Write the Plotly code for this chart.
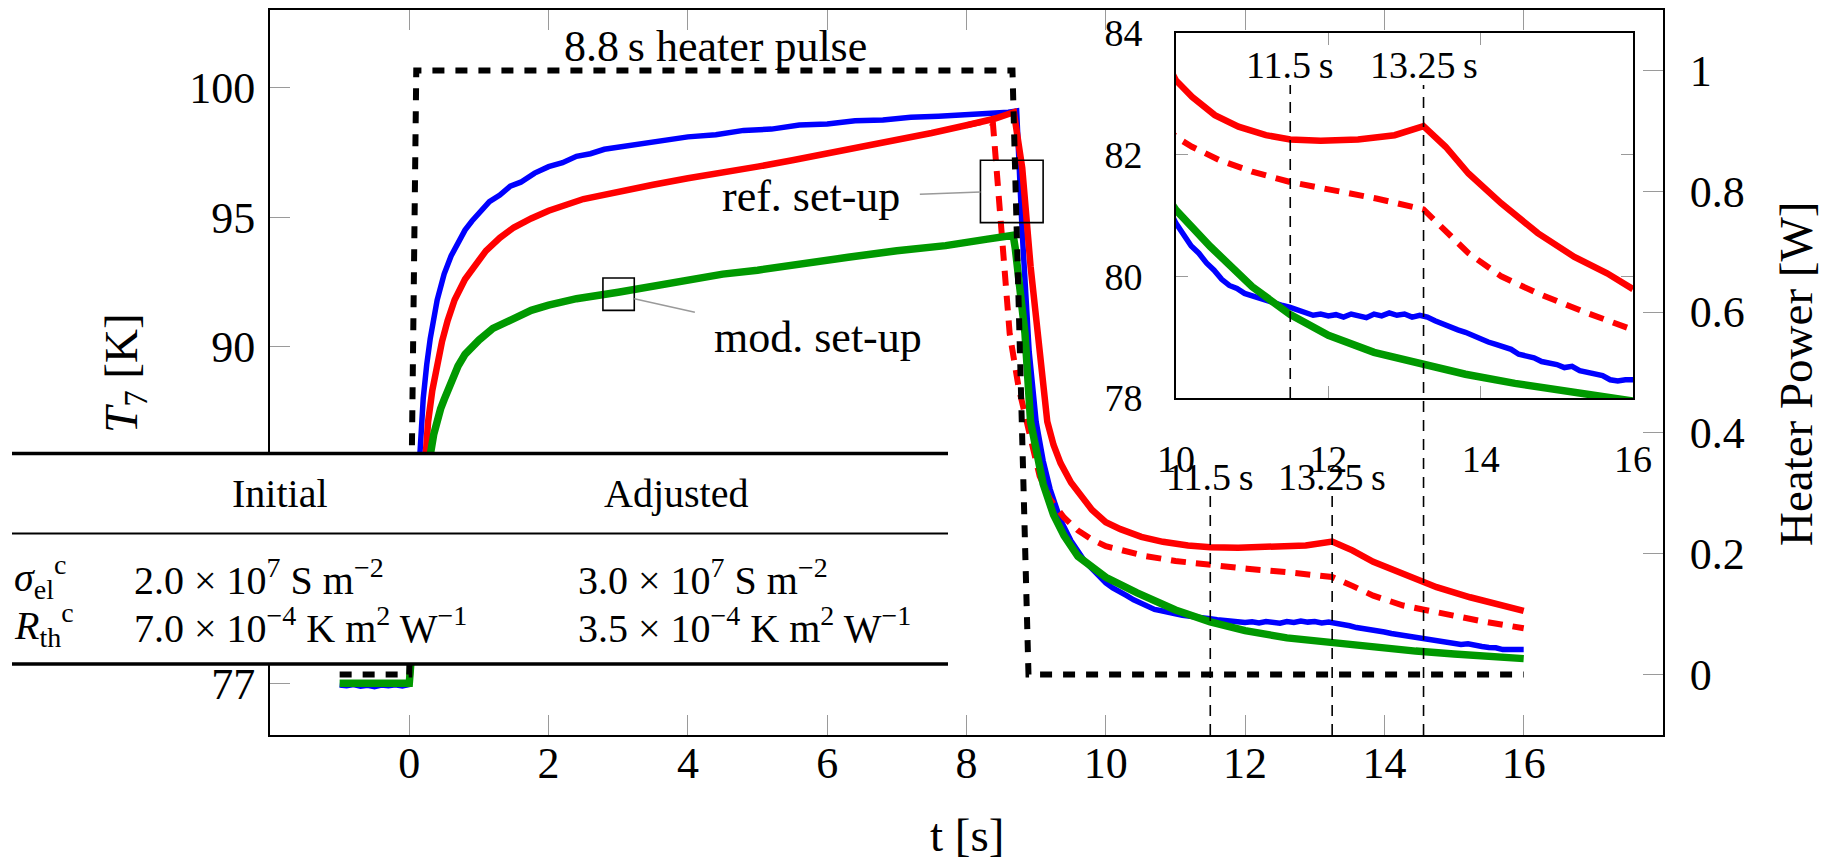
import plotly.graph_objects as go

FONT = "Liberation Serif, Times New Roman, serif"

# ---------------- data ----------------
# measured temperature (blue)
blue_t = [-1.0, -0.9, -0.8, -0.7, -0.6, -0.5, -0.4, -0.3, -0.2, -0.1, 0.0,
          0.05, 0.1, 0.15, 0.2, 0.25, 0.3, 0.4, 0.5, 0.6, 0.7, 0.8, 0.9, 1.0,
          1.15, 1.3, 1.45, 1.6, 1.8, 2.0, 2.2, 2.4, 2.6, 2.8, 3.0, 3.3, 3.6,
          4.0, 4.4, 4.8, 5.2, 5.6, 6.0, 6.4, 6.8, 7.2, 7.6, 8.0, 8.3, 8.6, 8.72,
          8.8, 8.9, 9.0, 9.1, 9.2, 9.35, 9.5, 9.7, 9.85, 10.0,
          10.1, 10.2, 10.3, 10.4, 10.5, 10.6, 10.7, 10.8, 10.9, 11.0,
          11.1, 11.2, 11.3, 11.4, 11.5, 11.6, 11.7, 11.8, 11.9, 12.0,
          12.1, 12.2, 12.3, 12.4, 12.5, 12.6, 12.7, 12.8, 12.9, 13.0,
          13.1, 13.2, 13.3, 13.4, 13.5, 13.6, 13.7, 13.8, 13.9, 14.0,
          14.1, 14.2, 14.3, 14.4, 14.5, 14.6, 14.7, 14.8, 14.9, 15.0,
          15.1, 15.2, 15.3, 15.4, 15.5, 15.6, 15.7, 15.8, 15.9, 16.0]
blue_T = [76.93, 76.90, 76.95, 76.88, 76.92, 76.87, 76.93, 76.90, 76.94, 76.89, 76.95,
          79.5, 83.5, 86.3, 88.0, 89.3, 90.3, 91.8, 92.8, 93.5, 94.05, 94.5, 94.85, 95.15,
          95.6, 95.85, 96.2, 96.35, 96.7, 96.95, 97.1, 97.35, 97.45, 97.62, 97.7, 97.8, 97.97,
          98.1, 98.18, 98.35, 98.4, 98.56, 98.6, 98.72, 98.75, 98.86, 98.9, 98.95, 99.02, 99.05, 99.1,
          94.4, 89.8, 87.1, 85.6, 84.5, 83.3, 82.5, 81.7, 81.25, 80.87,
          80.68, 80.5, 80.38, 80.22, 80.1, 79.95, 79.85, 79.8, 79.72, 79.68,
          79.62, 79.6, 79.56, 79.52, 79.49, 79.45, 79.42, 79.36, 79.38, 79.35,
          79.37, 79.33, 79.38, 79.36, 79.32, 79.38, 79.35, 79.4, 79.36, 79.38,
          79.33, 79.36, 79.33, 79.27, 79.22, 79.15, 79.12, 79.08, 79.02, 78.98,
          78.92, 78.88, 78.83, 78.8, 78.72, 78.7, 78.66, 78.6, 78.58, 78.55,
          78.5, 78.52, 78.45, 78.42, 78.38, 78.37, 78.3, 78.28, 78.3, 78.3]

# model, reference set-up (red solid)
red_t = [0.0, 0.1, 0.2, 0.27, 0.33, 0.4, 0.47, 0.55, 0.65, 0.8, 0.95, 1.1, 1.3, 1.5,
         1.75, 2.0, 2.5, 3.0, 3.5, 4.0, 4.5, 5.0, 5.5, 6.0, 6.5, 7.0, 7.5, 8.0, 8.4, 8.68,
         8.8, 8.92, 9.04, 9.16, 9.25, 9.35, 9.5, 9.65, 9.8, 10.0,
         10.21, 10.51, 10.82, 11.18, 11.5, 11.9, 12.39, 12.87, 13.25,
         13.54, 13.84, 14.27, 14.75, 15.23, 15.66, 16.0]
red_T = [77.0, 80.5, 84.5, 87.1, 88.3, 89.3, 90.2, 91.0, 91.8, 92.6, 93.2, 93.7, 94.2, 94.6,
         94.95, 95.25, 95.7, 96.0, 96.25, 96.5, 96.7, 96.95, 97.2, 97.45, 97.7, 97.95, 98.25,
         98.55, 98.8, 99.05,
         96.9, 93.1, 89.85, 87.1, 86.2, 85.5, 84.75, 84.2, 83.7, 83.22,
         82.95, 82.65, 82.46, 82.32, 82.25, 82.23, 82.25, 82.32, 82.47,
         82.13, 81.69, 81.2, 80.71, 80.32, 80.05, 79.79]

# model variant (red dashed)
redd_t = [8.0, 8.3, 8.38, 8.5, 8.62, 8.75, 8.87, 8.95, 9.05, 9.2, 9.4, 9.6, 9.8, 10.0,
          10.21, 10.57, 11.0, 11.5, 12.03, 12.63, 13.25, 13.54, 13.84, 14.27,
          14.75, 15.35, 16.0]
redd_T = [98.55, 98.72, 98.6, 94.4, 90.5, 88.4, 87.1, 86.0, 85.0, 84.1, 83.4, 82.9, 82.55, 82.29,
          82.13, 81.91, 81.72, 81.55, 81.42, 81.28, 81.1, 80.76, 80.38, 80.0,
          79.72, 79.42, 79.12]

# model, modified set-up (green)
green_t = [-1.0, 0.0, 0.1, 0.2, 0.3, 0.35, 0.4, 0.45, 0.5, 0.6, 0.7, 0.8, 0.9, 1.0, 1.2,
           1.35, 1.5, 1.75, 2.0, 2.4, 3.0, 3.5, 4.0, 4.5, 5.0, 5.7, 6.3, 7.0, 7.7, 8.3, 8.67,
           8.7, 8.75, 8.84, 8.92, 9.0, 9.1, 9.25, 9.4, 9.6, 9.8, 10.0,
           10.45, 11.0, 11.5, 12.0, 12.6, 13.25, 13.8, 14.45, 15.0, 15.5, 16.0]
green_T = [77.0, 77.0, 80.5, 83.5, 85.8, 86.6, 87.2, 87.6, 87.95, 88.7, 89.25, 89.7, 90.0,
           90.25, 90.7, 90.9, 91.1, 91.4, 91.6, 91.85, 92.1, 92.35, 92.55, 92.8, 92.95, 93.25,
           93.45, 93.7, 93.9, 94.15, 94.3,
           93.8, 92.7, 90.5, 87.1, 85.9, 84.7, 83.5, 82.7, 81.9, 81.45, 81.09,
           80.49, 79.83, 79.37, 79.03, 78.75, 78.55, 78.39, 78.24, 78.13, 78.04, 77.95]

# heater pulse (right axis)
heater_t = [-1.0, 0.0, 0.1, 8.66, 8.89, 16.0]
heater_P = [0.0, 0.0, 1.0, 1.0, 0.0, 0.0]

main_xticks = [0, 2, 4, 6, 8, 10, 12, 14, 16]
main_yticks = [77, 90, 95, 100]
power_ticks = [0, 0.2, 0.4, 0.6, 0.8, 1.0]
power_labels = ["0", "0.2", "0.4", "0.6", "0.8", "1"]
inset_xticks = [10, 12, 14, 16]
inset_yticks = [78, 80, 82, 84]
marks_t = [11.5, 13.25]

table_header = ["Initial", "Adjusted"]
table_symbols = ["<i>σ</i><sub>el</sub><sup>c</sup>", "<i>R</i><sub>th</sub><sup>c</sup>"]
table_initial = ["2.0 × 10<sup>7</sup> S m<sup>−2</sup>",
                 "7.0 × 10<sup>−4</sup> K m<sup>2</sup> W<sup>−1</sup>"]
table_adjusted = ["3.0 × 10<sup>7</sup> S m<sup>−2</sup>",
                  "3.5 × 10<sup>−4</sup> K m<sup>2</sup> W<sup>−1</sup>"]

BLUE, RED, GREEN = "#0000ff", "#ff0000", "#009900"
TICKC = "#9a9a9a"

fig = go.Figure()

def add_series(xa, ya):
    fig.add_trace(go.Scatter(x=blue_t, y=blue_T, mode="lines", xaxis=xa, yaxis=ya,
                             line=dict(color=BLUE, width=5.5), hoverinfo="skip"))
    fig.add_trace(go.Scatter(x=red_t, y=red_T, mode="lines", xaxis=xa, yaxis=ya,
                             line=dict(color=RED, width=6.5), hoverinfo="skip"))
    fig.add_trace(go.Scatter(x=redd_t, y=redd_T, mode="lines", xaxis=xa, yaxis=ya,
                             line=dict(color=RED, width=6, dash="15px,10px"), hoverinfo="skip"))
    fig.add_trace(go.Scatter(x=green_t, y=green_T, mode="lines", xaxis=xa, yaxis=ya,
                             line=dict(color=GREEN, width=7.5), hoverinfo="skip"))

add_series("x", "y")
fig.add_trace(go.Scatter(x=heater_t, y=heater_P, mode="lines", xaxis="x", yaxis="y2",
                         line=dict(color="black", width=6, dash="12px,11px"), hoverinfo="skip"))
add_series("x2", "y3")

# plot area in pixels: x 270..1663, y 10..735
L, R, T, B = 270, 160, 10, 126
W, H = 1823, 861
PW, PH = W - L - R, H - T - B

def px(x):
    return (x - L) / PW

def py(y):
    return (H - B - y) / PH

axis_common = dict(ticks="inside", ticklen=20, tickwidth=1.3, tickcolor=TICKC,
                   showline=True, linecolor="black", linewidth=2, automargin=False,
                   showgrid=False, zeroline=False,
                   tickfont=dict(family=FONT, size=44, color="black"))

inset_common = dict(ticks="inside", ticklen=12, tickwidth=1.3, tickcolor=TICKC,
                    showline=True, linecolor="black", linewidth=2, mirror="ticks",
                    showgrid=False, zeroline=False, automargin=False,
                    tickfont=dict(family=FONT, size=38, color="black"))

fig.update_layout(
    width=W, height=H, margin=dict(l=L, r=R, t=T, b=B, autoexpand=False),
    paper_bgcolor="white", plot_bgcolor="white", showlegend=False,
    font=dict(family=FONT, size=44, color="black"),
    xaxis=dict(domain=[0, 1], range=[-2, 18], tickvals=main_xticks, mirror="ticks",
               ticklabelstandoff=-12, anchor="y", **axis_common),
    yaxis=dict(domain=[0, 1], range=[75, 103], tickvals=main_yticks,
               ticklabelstandoff=4, anchor="x", **axis_common),
    yaxis2=dict(range=[-0.1, 1.1], tickvals=power_ticks, ticktext=power_labels,
                overlaying="y", side="right", anchor="x", ticklabelstandoff=16, **axis_common),
    xaxis2=dict(domain=[px(1176), px(1633)], range=[10, 16], tickvals=inset_xticks,
                anchor="y3", ticklabelstandoff=26, **inset_common),
    yaxis3=dict(domain=[py(398), py(33)], range=[78, 84], tickvals=inset_yticks,
                anchor="x2", ticklabelstandoff=24, **inset_common),
)

shapes = []
# vertical marks in the main plot
for tm in marks_t:
    shapes.append(dict(type="line", xref="x", yref="paper", x0=tm, x1=tm, y0=0, y1=py(495),
                       line=dict(color="black", width=1.6, dash="11px,8px")))
# vertical marks in the inset (the 13.25 s one runs down to the main axis)
shapes.append(dict(type="line", xref="x2", yref="paper", x0=marks_t[0], x1=marks_t[0],
                   y0=py(398), y1=py(85), line=dict(color="black", width=1.6, dash="11px,8px")))
shapes.append(dict(type="line", xref="x2", yref="paper", x0=marks_t[1], x1=marks_t[1],
                   y0=0, y1=py(85), line=dict(color="black", width=1.6, dash="11px,8px")))
# spy boxes and connectors
shapes.append(dict(type="rect", xref="x", yref="y", x0=8.2, x1=9.1, y0=94.79, y1=97.2,
                   line=dict(color="black", width=1.6)))
shapes.append(dict(type="rect", xref="x", yref="y", x0=2.78, x1=3.23, y0=91.4, y1=92.65,
                   line=dict(color="black", width=1.6)))
shapes.append(dict(type="line", xref="x", yref="y", x0=7.33, x1=8.2, y0=95.88, y1=95.97,
                   line=dict(color=TICKC, width=1.5)))
shapes.append(dict(type="line", xref="x", yref="y", x0=3.23, x1=4.1, y0=91.85, y1=91.33,
                   line=dict(color=TICKC, width=1.5)))
# parameter table (white panel with rules)
shapes.append(dict(type="rect", xref="paper", yref="paper", x0=px(0), x1=px(950),
                   y0=py(664), y1=py(453), fillcolor="white", line=dict(width=0), layer="above"))
for yy, lw in [(453.5, 3.3), (533.5, 2), (664, 3.3)]:
    shapes.append(dict(type="line", xref="paper", yref="paper", x0=px(12), x1=px(948),
                       y0=py(yy), y1=py(yy), line=dict(color="black", width=lw), layer="above"))
fig.update_layout(shapes=shapes)

ann = []
def text(x, y, s, size=44, xref="paper", yref="paper", xanchor="center", angle=0):
    ann.append(dict(x=x, y=y, xref=xref, yref=yref, text=s, showarrow=False,
                    xanchor=xanchor, yanchor="middle", textangle=angle,
                    font=dict(family=FONT, size=size, color="black")))

text(4.39, 101.6, "8.8\u2009s heater pulse", xref="x", yref="y")
text(5.77, 95.8, "ref. set-up", xref="x", yref="y")
text(5.87, 90.35, "mod. set-up", xref="x", yref="y")
for tm in marks_t:
    lab = ("%g" % tm) + "\u2009s"
    text(tm, py(477), lab, size=38, xref="x")
    text(tm, py(65), lab, size=38, xref="x2")
# axis titles
text(0.5, py(835), "t [s]", size=47)
text(px(124), py(373), "<i>T</i><sub>7</sub> [K]", size=47, angle=-90)
text(px(1796), py(374), "Heater Power [W]", size=47, angle=-90)
# table text
text(px(280), py(493), table_header[0], size=40)
text(px(676), py(493), table_header[1], size=40)
for i, yy in enumerate([577, 625]):
    text(px(12), py(yy), table_symbols[i], size=40, xanchor="left")
    text(px(132), py(yy), table_initial[i], size=40, xanchor="left")
    text(px(576), py(yy), table_adjusted[i], size=40, xanchor="left")
fig.update_layout(annotations=ann)

fig.write_html("out.html")
